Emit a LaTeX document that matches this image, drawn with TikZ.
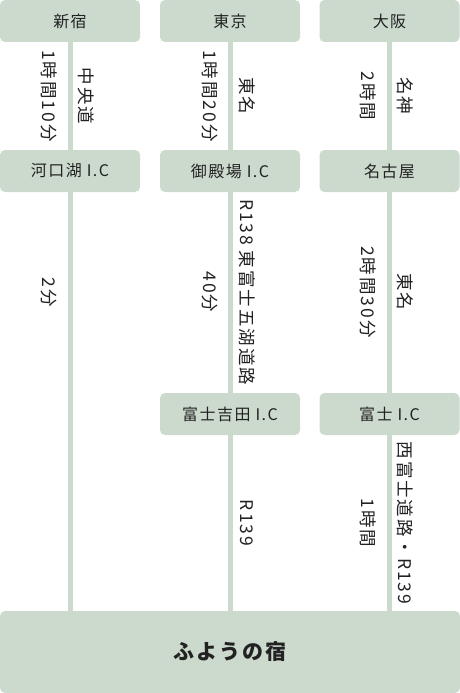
\documentclass[tikz,border=0pt]{standalone}
\usepackage{fontspec}
\setmainfont{Noto Sans CJK JP}
\usepackage{tikz}
\definecolor{routegreen}{RGB}{204,218,206}
\definecolor{routetext}{RGB}{34,34,34}

\begin{document}
\begin{tikzpicture}[x=1pt,y=-1pt,
  place/.style={fill=routegreen,rounded corners=5pt,inner sep=0pt,
                minimum width=140pt,minimum height=42pt,text=routetext,
                font=\fontsize{16}{19}\selectfont\addfontfeature{LetterSpace=9}},
  way/.style={draw=routegreen,line width=5pt},
  timelbl/.style={rotate=-90,inner sep=0pt,text=routetext,
                  font=\fontsize{17.5}{20}\selectfont\addfontfeature{LetterSpace=11}},
  roadlbl/.style={timelbl}]
  \useasboundingbox (0,0) rectangle (460,693);

  % start points
  \node[place] (shinjuku) at (70,21) {新宿};
  \node[place] (tokyo) at (230,21) {東京};
  \node[place] (osaka) at (389.5,21) {大阪};
  % interchanges
  \node[place] (kawaguchiko) at (70,171) {河口湖 I.C};
  \node[place] (gotemba) at (230,171) {御殿場 I.C};
  \node[place] (nagoya) at (389.5,171) {名古屋};
  \node[place] (yoshida) at (230,414) {富士吉田 I.C};
  \node[place] (fuji) at (389.5,414) {富士 I.C};
  % goal
  \node[place,minimum width=460pt,minimum height=82pt,
        font=\fontsize{21}{25}\selectfont\bfseries\addfontfeature{LetterSpace=10}] (fuyou) at (230,652) {ふようの宿};

  % the roads
  \draw[way] (shinjuku) -- (kawaguchiko);
  \draw[way] (kawaguchiko.south) -- (kawaguchiko.south |- fuyou.north);
  \draw[way] (tokyo) -- (gotemba);
  \draw[way] (gotemba) -- (yoshida);
  \draw[way] (yoshida.south) -- (yoshida.south |- fuyou.north);
  \draw[way] (osaka) -- (nagoya);
  \draw[way] (nagoya) -- (fuji);
  \draw[way] (fuji.south) -- (fuji.south |- fuyou.north);

  % times and road names
  \node[timelbl] (t1) at (49,96) {1時間10分};
  \node[roadlbl] (r1) at (86,96) {中央道};
  \node[timelbl] (t2) at (49,292) {2分};
  \node[timelbl] (t3) at (210,96) {1時間20分};
  \node[roadlbl] (r3) at (247,96) {東名};
  \node[timelbl] (t4) at (210,292) {40分};
  \node[roadlbl] (r4) at (247,292) {R138 東富士五湖道路};
  \node[roadlbl] (r5) at (247,523) {R139};
  \node[timelbl] (t6) at (368,96) {2時間};
  \node[roadlbl] (r6) at (405,96) {名神};
  \node[timelbl] (t7) at (368,292) {2時間30分};
  \node[roadlbl] (r7) at (405,292) {東名};
  \node[timelbl] (t8) at (368,523) {1時間};
  \node[roadlbl] (r8) at (405,523) {西富士道路・R139};
\end{tikzpicture}
\end{document}
